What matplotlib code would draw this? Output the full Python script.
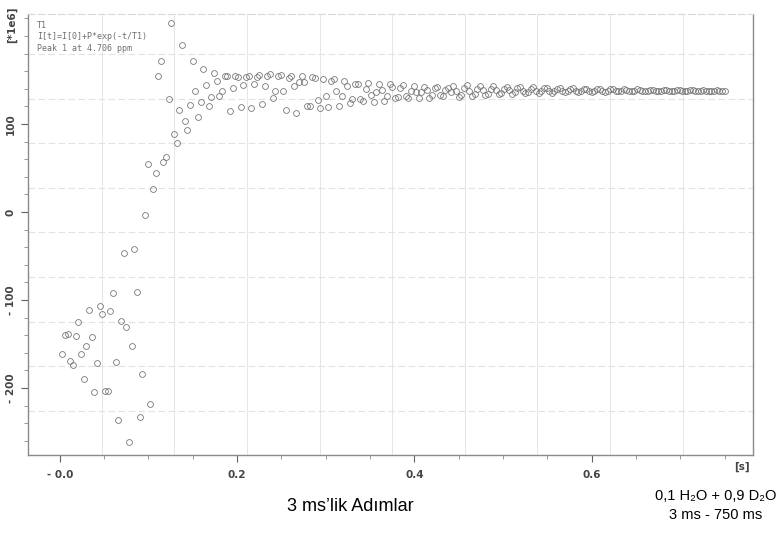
import numpy as np
import matplotlib
matplotlib.use('Agg')
import matplotlib.pyplot as plt

# T1 inversion data, 3 ms steps (values in 1e6)
early = [-161, -140, -139, -169, -174, -141, -125, -161, -190, -152,
         -111, -142, -205, -172, -107, -116, -203, -203, -112, -92,
         -170, -236, -124, -47, -131, -261, -152, -42, -91, -233,
         -184, -3, 55]
middle = [-218, 26, 44, 154, 172, 57, 63, 128, 215, 89,
          78, 116, 190, 103, 93, 122, 172, 137, 108, 125,
          162, 144, 120, 131, 158, 149, 132, 137, 155, 154,
          115, 141, 154, 153, 119, 144, 153, 154, 118, 145,
          153, 156, 123, 143, 154, 157, 129, 138, 154, 156,
          137, 116, 152, 155, 143, 113, 148, 154, 148, 120,
          120, 153, 152, 127, 118, 151, 132, 119, 149, 151,
          138, 120, 132, 149, 143, 124, 128, 145, 146, 128,
          126, 140, 147, 133, 125, 136, 146, 139, 126, 132,
          145, 142, 129, 131, 141, 144, 132, 129, 138, 143,
          136, 129, 136, 142, 139, 129, 133, 141, 142, 133,
          132, 139, 141, 136]
late = [143, 137, 131, 133, 141, 144, 138, 132, 134, 140,
        143, 139, 133, 134, 140, 143, 139, 134, 135, 140,
        142, 139, 134, 136, 141, 142, 138, 135, 136, 140,
        142, 138, 135, 137, 141, 141, 137, 135, 137, 140,
        141, 138, 136, 137, 140, 141, 138, 136, 137, 140,
        140, 138, 136, 138, 140, 140, 137, 136, 138, 140,
        140, 138, 137, 138, 140, 139, 137, 137, 138, 140,
        139, 138, 137, 138, 139, 139, 138, 137, 138, 139,
        139, 138, 137, 138, 139, 139, 138, 137, 138, 139,
        139, 138, 137, 138, 139, 138, 138, 137, 138, 139,
        138, 138, 137]

values = np.array(early + middle + late, dtype=float)
t = 0.003 * np.arange(1, len(values) + 1)

xticks = [0.0, 0.2, 0.4, 0.6]
xlabels = ['- 0.0', '0.2', '0.4', '0.6']
yticks = [-200, -100, 0, 100]
ylabels = ['- 200', '- 100', '0', '100']

gray = '#606060'
fig = plt.figure(figsize=(7.78, 5.39), dpi=100)
ax = fig.add_axes([0.036, 0.156, 0.932, 0.818])

ax.plot(t, values, 'o', ms=4.2, mfc='none', mec='#787878', mew=0.6)

ax.set_xlim(-0.0358, 0.782)
ax.set_ylim(-276, 225)

# grid from the spectrometer printout (not aligned with ticks)
for gx in np.arange(0.0474, 0.78, 0.0819):
    ax.axvline(gx, color='#e6e6e6', lw=0.7, zorder=0)
for gy in np.arange(-226, 225, 50.7):
    ax.axhline(gy, color='#e2e2e2', lw=0.8, ls=(0, (6, 3)), zorder=0)

ax.set_xticks(xticks, xlabels)
ax.set_yticks(yticks, ylabels)
ax.set_xticks(np.arange(-0.0, 0.78, 0.05), minor=True)
ax.set_yticks(np.arange(-260, 225, 20), minor=True)
for lab in ax.get_yticklabels():
    lab.set_rotation(90)
    lab.set_va('center')
ax.tick_params(axis='both', which='major', labelsize=7.5, colors=gray,
               length=5, width=0.8, labelcolor='#444444')
ax.tick_params(axis='both', which='minor', length=3, width=0.6, colors='#888888')
ax.tick_params(axis='x', pad=6)
ax.tick_params(axis='y', pad=4)
for lab in ax.get_xticklabels() + ax.get_yticklabels():
    lab.set_fontweight('bold')

for side in ['left', 'bottom', 'right']:
    ax.spines[side].set_color('#8a8a8a')
    ax.spines[side].set_linewidth(1.0)
ax.spines['top'].set_color('#d8d8d8')
ax.spines['top'].set_linestyle((0, (6, 3)))

fig.text(0.016, 0.955, '[*1e6]', rotation=90, fontsize=7.5, fontweight='bold',
         color='#444444', ha='center', va='center')
fig.text(0.954, 0.133, '[s]', fontsize=7.5, fontweight='bold', color='#444444',
         ha='center', va='center')

mono = ['DejaVu Sans Mono']
ax.text(0.012, 0.985, 'T1\nI[t]=I[0]+P*exp(-t/T1)\nPeak 1 at 4.706 ppm',
        transform=ax.transAxes, family=mono, fontsize=6, color='#707070',
        va='top', ha='left', linespacing=1.35)

sans = ['Liberation Sans', 'DejaVu Sans']
fig.text(0.45, 0.061, "3 ms\u2019lik Ad\u0131mlar", family=sans, fontsize=13,
         ha='center', va='center')
fig.text(0.92, 0.079, '0,1 H\u2082O + 0,9 D\u2082O', family=sans, fontsize=10.5,
         ha='center', va='center')
fig.text(0.92, 0.045, '3 ms - 750 ms', family=sans, fontsize=10.5,
         ha='center', va='center')

fig.savefig('out.png', dpi=100)
